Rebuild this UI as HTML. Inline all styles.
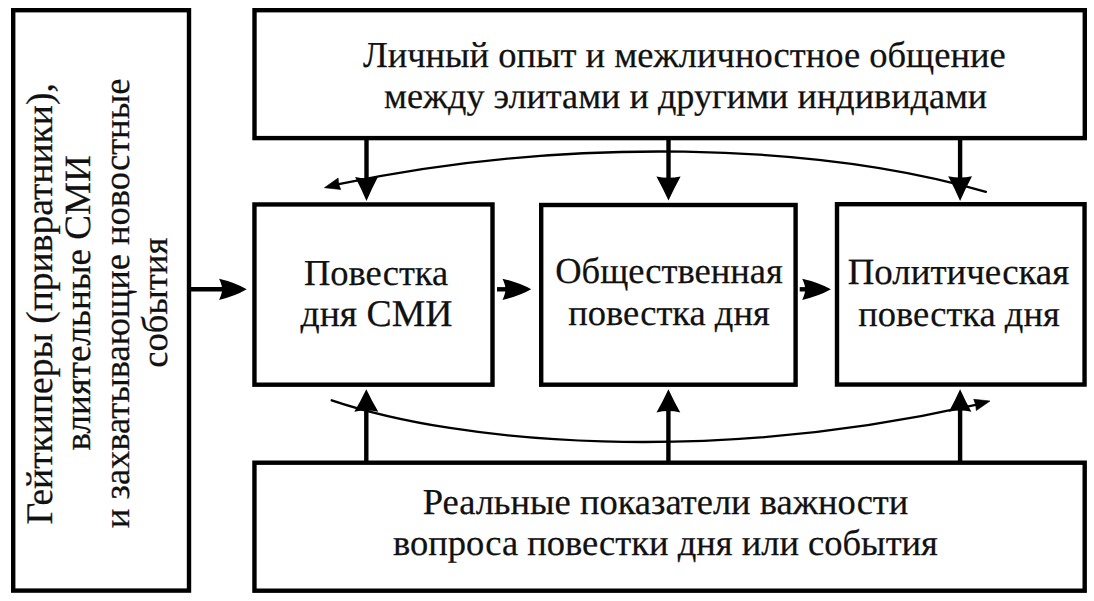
<!DOCTYPE html>
<html><head><meta charset="utf-8"><style>
html,body{margin:0;padding:0;background:#fff;}
svg{display:block;}
text{font-family:"Liberation Serif",serif;text-rendering:geometricPrecision;fill:#111;stroke:#111;stroke-width:0.25px;}
</style></head><body>
<svg width="1094" height="601" viewBox="0 0 1094 601">
<rect x="0" y="0" width="1094" height="601" fill="#fff"/>
<rect x="13.20" y="10.20" width="175.80" height="580.40" fill="none" stroke="#000" stroke-width="4.4"/>
<rect x="254.50" y="10.20" width="830.30" height="127.90" fill="none" stroke="#000" stroke-width="4.4"/>
<rect x="254.45" y="204.45" width="238.05" height="180.25" fill="none" stroke="#000" stroke-width="4.4"/>
<rect x="541.20" y="205.00" width="254.40" height="179.70" fill="none" stroke="#000" stroke-width="4.4"/>
<rect x="837.00" y="204.20" width="247.55" height="180.35" fill="none" stroke="#000" stroke-width="4.4"/>
<rect x="254.45" y="462.70" width="830.25" height="128.00" fill="none" stroke="#000" stroke-width="4.4"/>
<line x1="366.5" y1="140" x2="366.5" y2="179" stroke="#000" stroke-width="4.4"/>
<path d="M366.50,201.00 Q361.40,189.00 355.10,177.00 Q360.80,178.40 366.50,178.40 Q372.20,178.40 377.90,177.00 Q371.60,189.00 366.50,201.00 Z" fill="#000"/>
<line x1="668.5" y1="140" x2="668.5" y2="178.4" stroke="#000" stroke-width="4.4"/>
<path d="M668.50,200.60 Q663.05,188.50 656.40,176.40 Q662.45,177.80 668.50,177.80 Q674.55,177.80 680.60,176.40 Q673.95,188.50 668.50,200.60 Z" fill="#000"/>
<line x1="960.1" y1="140" x2="960.1" y2="178.2" stroke="#000" stroke-width="4.4"/>
<path d="M960.10,201.00 Q954.75,188.60 948.20,176.20 Q954.15,177.60 960.10,177.60 Q966.05,177.60 972.00,176.20 Q965.45,188.60 960.10,201.00 Z" fill="#000"/>
<line x1="366.3" y1="461" x2="366.3" y2="409.8" stroke="#000" stroke-width="4.4"/>
<path d="M366.30,389.20 Q360.90,400.50 354.30,411.80 Q360.30,410.40 366.30,410.40 Q372.30,410.40 378.30,411.80 Q371.70,400.50 366.30,389.20 Z" fill="#000"/>
<line x1="668.4" y1="461" x2="668.4" y2="410.5" stroke="#000" stroke-width="4.4"/>
<path d="M668.40,389.20 Q663.05,400.85 656.50,412.50 Q662.45,411.10 668.40,411.10 Q674.35,411.10 680.30,412.50 Q673.75,400.85 668.40,389.20 Z" fill="#000"/>
<line x1="960.1" y1="461" x2="960.1" y2="409.8" stroke="#000" stroke-width="4.4"/>
<path d="M960.10,389.20 Q955.05,400.50 948.80,411.80 Q954.45,410.40 960.10,410.40 Q965.75,410.40 971.40,411.80 Q965.15,400.50 960.10,389.20 Z" fill="#000"/>
<line x1="190" y1="289.3" x2="223.1" y2="289.3" stroke="#000" stroke-width="4.4"/>
<path d="M246.70,289.30 Q234.90,282.30 219.10,278.70 Q222.10,285.06 222.10,289.30 Q222.10,293.54 219.10,299.90 Q234.90,296.30 246.70,289.30 Z" fill="#000"/>
<line x1="497" y1="289.3" x2="506.5" y2="289.3" stroke="#000" stroke-width="4.4"/>
<path d="M531.20,289.30 Q518.85,282.30 502.50,278.70 Q505.50,285.06 505.50,289.30 Q505.50,293.54 502.50,299.90 Q518.85,296.30 531.20,289.30 Z" fill="#000"/>
<line x1="799.7" y1="289.3" x2="806.2" y2="289.3" stroke="#000" stroke-width="4.4"/>
<path d="M830.90,289.30 Q818.55,282.30 802.20,278.70 Q805.20,285.06 805.20,289.30 Q805.20,293.54 802.20,299.90 Q818.55,296.30 830.90,289.30 Z" fill="#000"/>
<path d="M338.7,184.2 C567.29,136.43 816.73,142.80 985.9,191.8" fill="none" stroke="#000" stroke-width="2.3" stroke-linecap="round"/>
<path d="M324.4,187.7 L338.1,178.1 L338.7,184.2 L340.7,189.5 Z" fill="#000" stroke="#000" stroke-width="0.6" stroke-linejoin="round"/>
<path d="M331.7,400.3 C462.15,444.28 709.11,464.52 975.7,404.8" fill="none" stroke="#000" stroke-width="2.3" stroke-linecap="round"/>
<path d="M990,401 L973.7,399.3 L975.7,404.8 L976.3,410.6 Z" fill="#000" stroke="#000" stroke-width="0.6" stroke-linejoin="round"/>
<text x="684.3" y="66.7" text-anchor="middle" font-size="36.5">Личный опыт и межличностное общение</text>
<text x="685.65" y="107.7" text-anchor="middle" font-size="36.2">между элитами и другими индивидами</text>
<text x="376.1" y="284.6" text-anchor="middle" font-size="36.5">Повестка</text>
<text x="376.5" y="326.4" text-anchor="middle" font-size="37.7">дня СМИ</text>
<text x="669" y="283" text-anchor="middle" font-size="36.5">Общественная</text>
<text x="669" y="324.8" text-anchor="middle" font-size="36.5">повестка дня</text>
<text x="958.45" y="284" text-anchor="middle" font-size="36.9">Политическая</text>
<text x="959" y="325.6" text-anchor="middle" font-size="36.5">повестка дня</text>
<text x="665.5" y="514.4" text-anchor="middle" font-size="36.5">Реальные показатели важности</text>
<text x="665.5" y="555.3" text-anchor="middle" font-size="36.5">вопроса повестки дня или события</text>
<text transform="translate(51.6,303.8) rotate(-90)" x="0" y="0" text-anchor="middle" font-size="37.6">Гейткиперы (привратники),</text>
<text transform="translate(89.7,302.9) rotate(-90)" x="0" y="0" text-anchor="middle" font-size="37.05">влиятельные СМИ</text>
<text transform="translate(129.4,303.4) rotate(-90)" x="0" y="0" text-anchor="middle" font-size="36.5">и захватывающие новостные</text>
<text transform="translate(166.8,302.8) rotate(-90)" x="0" y="0" text-anchor="middle" font-size="36.6">события</text>
</svg>
</body></html>
